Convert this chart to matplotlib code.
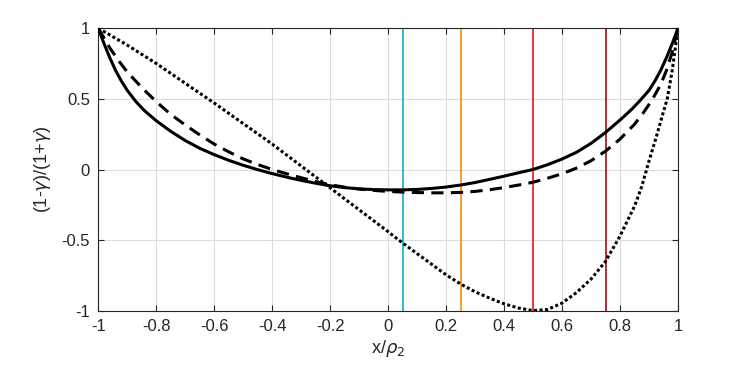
import numpy as np
import matplotlib
matplotlib.use("Agg")
import matplotlib.pyplot as plt
from matplotlib.ticker import FuncFormatter

plt.rcParams['font.family'] = ['Liberation Sans', 'DejaVu Sans']
plt.rcParams['axes.unicode_minus'] = False

# curves
x_solid = [-1.0, -0.98, -0.96, -0.94, -0.92, -0.9, -0.87, -0.84, -0.8, -0.75, -0.7, -0.65, -0.6,
           -0.55, -0.5, -0.45, -0.4, -0.35, -0.3, -0.25, -0.2, -0.15, -0.1, -0.05, 0.0, 0.05,
           0.1, 0.15, 0.2, 0.25, 0.3, 0.35, 0.4, 0.45, 0.5, 0.55, 0.6, 0.65, 0.7, 0.75, 0.8,
           0.84, 0.87, 0.9, 0.92, 0.94, 0.96, 0.98, 1.0]
y_solid = [1.0, 0.89, 0.79, 0.70, 0.625, 0.56, 0.48, 0.415, 0.345, 0.27, 0.205, 0.15, 0.105,
           0.065, 0.03, -0.001, -0.029, -0.054, -0.077, -0.097, -0.115, -0.128, -0.137, -0.142, -0.144, -0.144,
           -0.141, -0.134, -0.124, -0.11, -0.092, -0.07, -0.047, -0.023, 0.0, 0.034, 0.074, 0.122, 0.185, 0.262, 0.35,
           0.425, 0.49, 0.56, 0.625, 0.70, 0.79, 0.89, 1.0]

x_dash = [-1.0, -0.98, -0.96, -0.93, -0.9, -0.85, -0.8, -0.75, -0.7, -0.65, -0.6, -0.55, -0.5,
          -0.45, -0.4, -0.35, -0.3, -0.25, -0.2, -0.15, -0.1, -0.05, 0.0, 0.05, 0.1, 0.15, 0.2,
          0.25, 0.3, 0.35, 0.4, 0.45, 0.5, 0.55, 0.6, 0.65, 0.7, 0.75, 0.8, 0.85, 0.88, 0.91,
          0.94, 0.96, 0.98, 1.0]
y_dash = [1.0, 0.93, 0.86, 0.77, 0.69, 0.58, 0.48, 0.39, 0.315, 0.245, 0.18, 0.125, 0.075,
          0.035, 0.0, -0.03, -0.058, -0.085, -0.108, -0.125, -0.138, -0.148, -0.155, -0.16, -0.163, -0.165, -0.165,
          -0.162, -0.155, -0.143, -0.128, -0.11, -0.09, -0.062, -0.03, 0.01, 0.062, 0.13, 0.215, 0.32, 0.4, 0.49,
          0.6, 0.7, 0.83, 1.0]

x_dot = [-1.0, -0.95, -0.9, -0.85, -0.8, -0.7, -0.6, -0.5, -0.4, -0.3, -0.2, -0.1, 0.0, 0.05,
         0.1, 0.15, 0.2, 0.25, 0.3, 0.35, 0.4, 0.45, 0.5, 0.55, 0.6, 0.65, 0.7, 0.75, 0.8, 0.85,
         0.875, 0.9, 0.925, 0.95, 0.963, 0.98, 1.0]
y_dot = [1.0, 0.94, 0.88, 0.815, 0.75, 0.61, 0.47, 0.325, 0.18, 0.025, -0.13, -0.285, -0.44, -0.52,
         -0.595, -0.67, -0.745, -0.81, -0.865, -0.91, -0.95, -0.98, -0.998, -0.99, -0.945, -0.87, -0.775, -0.65, -0.47, -0.26,
         -0.12, 0.06, 0.23, 0.41, 0.5, 0.7, 1.0]

# vertical markers
vlines_x = [0.05, 0.25, 0.5, 0.75]
vlines_c = ['#1fb4d6', '#f7941d', '#e8242f', '#a0202e']

ticks_x = [-1, -0.8, -0.6, -0.4, -0.2, 0, 0.2, 0.4, 0.6, 0.8, 1]
ticks_y = [-1, -0.5, 0, 0.5, 1]

fig = plt.figure(figsize=(7.5, 3.75), dpi=100)
ax = fig.add_axes([0.131, 0.171, 0.773, 0.754])

for xv, c in zip(vlines_x, vlines_c):
    ax.axvline(xv, color=c, lw=1.3, zorder=2)

ax.plot(x_solid, y_solid, color='k', lw=2.2, zorder=3)
ax.plot(x_dash, y_dash, color='k', lw=2.2, ls=(0, (4, 2.4)), zorder=3)
ax.plot(x_dot, y_dot, color='k', lw=2.2, ls=(0, (1, 0.8)), zorder=3)

ax.set_xlim(-1, 1)
ax.set_ylim(-1, 1)
ax.set_xticks(ticks_x)
ax.set_yticks(ticks_y)
fmt = FuncFormatter(lambda v, p: ('%g' % v))
ax.xaxis.set_major_formatter(fmt)
ax.yaxis.set_major_formatter(fmt)

ax.grid(True, color='#dcdcdc', lw=0.8, zorder=0)
ax.set_axisbelow(True)
ax.tick_params(direction='in', top=True, right=True, length=4, width=0.8,
               colors='#262626', labelsize=12, pad=6)
for s in ax.spines.values():
    s.set_color('#262626')
    s.set_linewidth(0.8)

ax.set_xlabel(r'x/$\rho_2$', fontsize=13, color='#262626', labelpad=3)
ax.set_ylabel(r'(1-$\gamma$)/(1+$\gamma$)', fontsize=13, color='#262626', labelpad=6)

fig.savefig('out.png', dpi=100)
